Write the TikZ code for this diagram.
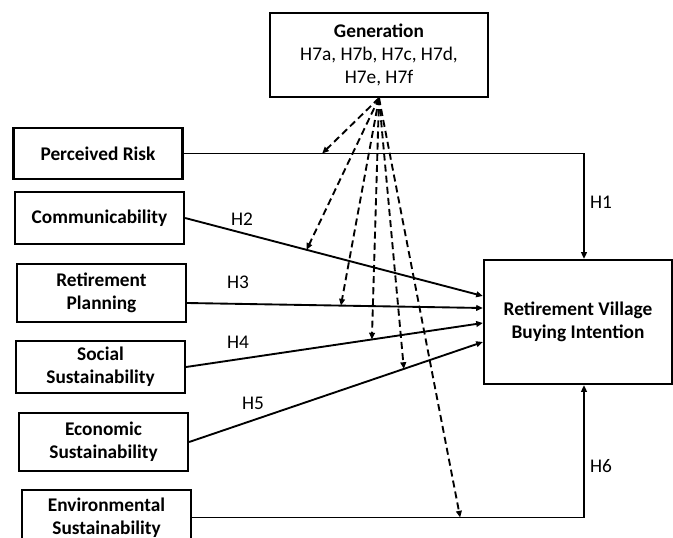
\documentclass[tikz,border=0pt]{standalone}
\usepackage{fontspec}
\setmainfont{Carlito}
\usetikzlibrary{arrows.meta,calc}

\newcommand{\diagfont}{\fontsize{16.5}{19.5}\selectfont}

\begin{document}
\begin{tikzpicture}[x=0.03cm,y=-0.03cm,
  var/.style={draw,line width=1.9pt,minimum width=5.07cm,align=center,inner sep=0pt,font=\diagfont\bfseries},
  arr/.style={line width=1.6pt,-{Triangle[length=2mm,width=1.7mm]}},
  mod/.style={line width=1.6pt,dash pattern=on 6pt off 3.5pt,-{Triangle[length=2mm,width=1.7mm]}},
  hyp/.style={inner sep=0pt,font=\diagfont}
]
  \useasboundingbox (0,0) rectangle (673,538);
  \node[var,minimum width=6.54cm,minimum height=2.52cm] (gen) at (379,55)
    {Generation\\\mdseries H7a, H7b, H7c, H7d,\\\mdseries H7e, H7f};
  \node[var,minimum height=1.53cm] (pr) at (98,153.5) {Perceived Risk};
  \node[var,minimum height=1.56cm] (com) at (99.5,218) {Communicability};
  \node[var,minimum height=1.74cm] (rp) at (101.5,293) {Retirement\\Planning};
  \node[var,minimum height=1.56cm] (soc) at (100.5,367) {Social\\Sustainability};
  \node[var,minimum height=1.74cm] (eco) at (103.5,442) {Economic\\Sustainability};
  \node[var,minimum height=1.65cm] (env) at (106.5,517.5) {Environmental\\Sustainability};
  \node[var,minimum width=5.64cm,minimum height=3.72cm] (rvb) at (578,322)
    {Retirement Village\\Buying Intention};

  \draw[arr] (pr.east) -| coordinate[pos=0.173] (m1) ([xshift=0.18cm]rvb.north);
  \draw[arr] (com.east) -- coordinate[pos=0.408] (m2) ([yshift=0.78cm]rvb.west);
  \draw[arr] ([yshift=-0.3cm]rp.east) -- coordinate[pos=0.52] (m3) ([yshift=0.42cm]rvb.west);
  \draw[arr] (soc.east) -- coordinate[pos=0.626] (m4) ([yshift=-0.03cm]rvb.west);
  \draw[arr] (eco.east) -- coordinate[pos=0.731] (m5) ([yshift=-0.6cm]rvb.west);
  \draw[arr] (env.east) -| coordinate[pos=0.342] (m6) ([xshift=0.18cm]rvb.south);

  \foreach \m in {m1,m2,m3,m4,m5,m6}
    \draw[mod] (gen.south) -- (\m);

  \node[hyp] (h1) at (601,202) {H1};
  \node[hyp] (h2) at (242,219) {H2};
  \node[hyp] (h3) at (238,282) {H3};
  \node[hyp] (h4) at (238,342) {H4};
  \node[hyp] (h5) at (253,403) {H5};
  \node[hyp] (h6) at (601,466) {H6};
\end{tikzpicture}
\end{document}
